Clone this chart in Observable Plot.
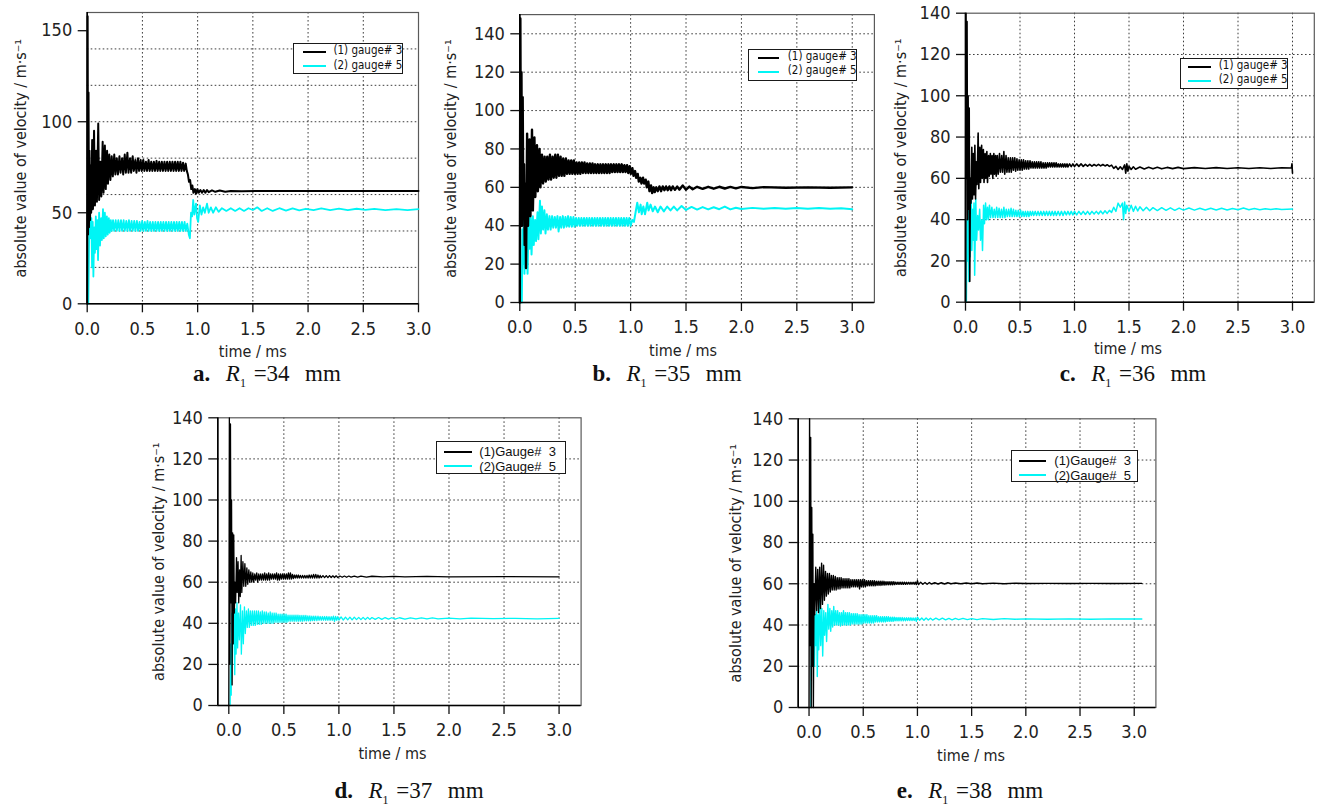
<!DOCTYPE html>
<html><head><meta charset="utf-8">
<script src="https://cdn.jsdelivr.net/npm/d3@7"></script>
<script src="https://cdn.jsdelivr.net/npm/@observablehq/plot@0.6"></script>
<style>
body{margin:0;background:#fff;}
#root{position:relative;width:1324px;height:809px;overflow:hidden;background:#fff;}
#root svg{position:absolute;left:0;top:0;}
.legend{position:absolute;box-sizing:border-box;border:1.5px solid #1a1a1a;background:#fff;}
.legend .sw{position:absolute;height:0;border-top-style:solid;}
.legend .tx{position:absolute;white-space:pre;line-height:1;transform:translateY(-50%);color:#111;}
.cap{position:absolute;white-space:pre;transform:translate(-50%,-50%);font-family:"Liberation Serif","DejaVu Serif",serif;font-size:23px;word-spacing:2px;color:#111;}
.cap sub{font-size:12px;}
</style></head>
<body><div id="root"></div>
<script>
// ---------- data: [time (ms), |velocity| (m/s)] ----------
const aGauge3 = [[0,0],[0.004,158],[0.008,38],[0.012,116],[0.016,42],[0.021,84],[0.026,46],[0.031,76],[0.036,50],[0.045,90],[0.052,52],[0.062,95],[0.07,54],[0.08,84],[0.088,56],[0.1,99],[0.108,57],[0.12,78],[0.128,59],[0.14,89],[0.148,61],[0.16,87],[0.168,63],[0.18,84],[0.188,66],[0.2,82],[0.21,68],[0.222,81],[0.232,70],[0.245,82],[0.255,71],[0.268,80],[0.278,71],[0.292,81],[0.302,72],[0.316,80],[0.326,71],[0.34,82],[0.35,72],[0.364,83],[0.374,72],[0.388,80],[0.398,72],[0.412,81],[0.422,73],[0.436,79],[0.446,72],[0.46,80],[0.47,73],[0.484,79],[0.494,73],[0.508,79],[0.518,73],[0.532,78],[0.542,73],[0.556,79],[0.566,73],[0.58,78],[0.59,73],[0.604,78],[0.614,73],[0.628,78.5],[0.638,73],[0.652,78],[0.662,73],[0.676,78],[0.686,73],[0.7,78],[0.71,73],[0.724,78],[0.734,73],[0.748,78],[0.758,73],[0.772,78],[0.782,73],[0.796,78],[0.806,73],[0.82,78],[0.83,73],[0.844,78],[0.854,73],[0.868,77.5],[0.878,73],[0.892,77],[0.902,73],[0.912,71],[0.922,67],[0.932,68],[0.942,63],[0.952,65],[0.962,61],[0.975,63],[0.985,60.5],[0.998,63],[1.01,61],[1.025,62.5],[1.04,61],[1.055,62.5],[1.07,61],[1.085,62.5],[1.1,61.3],[1.13,62.3],[1.16,61.5],[1.2,62.2],[1.25,61.6],[1.3,62],[1.4,61.8],[1.6,62],[2,62],[2.5,62],[3,62]];
const aGauge5 = [[0.01,0],[0.018,38],[0.026,50],[0.032,36],[0.038,47],[0.044,20],[0.05,45],[0.056,15],[0.064,42],[0.07,28],[0.078,48],[0.084,30],[0.092,46],[0.098,24],[0.108,50],[0.116,32],[0.126,47],[0.133,35],[0.143,52],[0.15,36],[0.16,50],[0.168,37],[0.178,48],[0.186,38],[0.196,47],[0.204,39],[0.214,46],[0.222,40],[0.234,46],[0.244,40],[0.258,46],[0.268,40],[0.282,46],[0.292,40],[0.306,46],[0.316,40],[0.33,46],[0.34,40],[0.354,45.5],[0.364,40],[0.378,46],[0.388,40],[0.402,45.5],[0.412,40],[0.426,45.5],[0.436,40],[0.45,45.5],[0.46,40],[0.474,45],[0.484,40],[0.498,45.5],[0.508,40],[0.522,45],[0.532,40],[0.546,45.5],[0.556,40],[0.57,45],[0.58,40],[0.594,45],[0.604,40],[0.618,45],[0.628,40],[0.642,45],[0.652,40],[0.666,45],[0.676,40],[0.69,45],[0.7,40],[0.714,45],[0.724,40],[0.738,45],[0.748,40],[0.762,45],[0.772,40],[0.786,45],[0.796,40],[0.81,45],[0.82,40],[0.834,45],[0.844,40],[0.858,45],[0.868,40],[0.882,45],[0.892,40],[0.906,44],[0.92,38],[0.93,36],[0.94,50],[0.95,48],[0.96,57],[0.97,49],[0.985,55],[0.995,47],[1.005,45],[1.02,54],[1.035,49],[1.05,53],[1.065,50],[1.085,55],[1.1,50],[1.12,53],[1.14,50],[1.165,53],[1.19,50.5],[1.22,52.5],[1.26,51],[1.3,52.5],[1.34,51],[1.38,52.5],[1.42,51],[1.46,52.5],[1.5,51.5],[1.54,53],[1.58,51],[1.63,52.5],[1.68,51],[1.74,52.5],[1.8,51.2],[1.86,52.4],[1.92,51.3],[1.98,52.2],[2.05,51.4],[2.12,52.4],[2.2,51.5],[2.28,52.3],[2.36,51.5],[2.44,52.2],[2.52,51.6],[2.6,52.1],[2.7,51.4],[2.8,52],[2.9,51.5],[3,52]];

const bGauge3 = [[0,0],[0.005,148],[0.01,60],[0.015,120],[0.02,40],[0.026,107],[0.032,45],[0.038,72],[0.044,30],[0.05,62],[0.056,18],[0.066,88],[0.074,40],[0.088,85],[0.096,45],[0.11,90],[0.118,48],[0.132,86],[0.14,55],[0.155,82],[0.163,58],[0.178,80],[0.186,60],[0.2,77],[0.21,62],[0.224,76],[0.234,63],[0.248,76],[0.258,64],[0.272,77],[0.282,64],[0.296,76],[0.306,65],[0.32,77],[0.33,65],[0.344,77],[0.354,66],[0.368,76],[0.378,66],[0.392,75],[0.402,66],[0.416,75],[0.426,67],[0.44,74],[0.45,67],[0.464,74],[0.474,67],[0.488,74],[0.498,67],[0.512,73],[0.522,67],[0.536,73],[0.546,67],[0.56,73],[0.57,67.5],[0.584,73],[0.594,67.5],[0.608,72.5],[0.618,67.5],[0.632,72.5],[0.642,67.5],[0.656,72.5],[0.666,67.5],[0.68,72],[0.69,67.5],[0.704,72],[0.714,67.5],[0.728,72],[0.738,67.5],[0.752,72],[0.762,67.5],[0.776,72],[0.786,67.5],[0.8,72],[0.81,67.5],[0.824,72],[0.834,68],[0.848,72],[0.858,68],[0.872,72],[0.882,68],[0.896,72],[0.906,68],[0.92,72],[0.93,68],[0.944,71.5],[0.954,68],[0.968,71.5],[0.978,67.5],[0.992,71],[1.002,67],[1.016,70],[1.026,66],[1.04,68.5],[1.05,65],[1.064,67],[1.074,63],[1.088,65],[1.098,62],[1.112,65],[1.122,62],[1.136,64],[1.146,60],[1.16,63],[1.17,58],[1.184,61],[1.194,57],[1.208,60],[1.218,57.5],[1.232,60],[1.245,58],[1.26,60.5],[1.275,58],[1.29,60.5],[1.305,58.5],[1.32,60.5],[1.335,58.5],[1.35,60.5],[1.365,58.5],[1.38,60.5],[1.4,58.7],[1.42,60.4],[1.44,58.8],[1.47,61],[1.5,58.8],[1.53,60.4],[1.56,59],[1.6,60.3],[1.65,59.2],[1.7,60.3],[1.75,59.3],[1.8,60.3],[1.85,59.4],[1.9,60.2],[1.95,59.5],[2,60.2],[2.1,59.6],[2.2,60.1],[2.4,59.8],[2.6,60],[2.8,59.8],[3,60]];
const bGauge5 = [[0.018,0],[0.024,38],[0.03,20],[0.036,45],[0.042,15],[0.05,52],[0.056,30],[0.064,50],[0.07,15],[0.08,45],[0.088,28],[0.098,44],[0.106,25],[0.118,45],[0.126,30],[0.138,43],[0.146,32],[0.16,47],[0.168,33],[0.182,53],[0.19,36],[0.2,50],[0.21,38],[0.222,48],[0.232,36],[0.244,46],[0.254,38],[0.268,45],[0.278,38],[0.292,45],[0.302,39],[0.316,44.5],[0.326,39],[0.34,45],[0.35,37],[0.364,44.5],[0.374,39],[0.388,45],[0.398,39],[0.412,44.5],[0.422,39.5],[0.436,45],[0.446,39.5],[0.46,44.5],[0.47,39.5],[0.484,44.5],[0.494,39.5],[0.508,44],[0.518,40],[0.532,44],[0.542,40],[0.556,44],[0.566,40],[0.58,44],[0.59,40],[0.604,44],[0.614,40],[0.628,44],[0.638,40],[0.652,44],[0.662,40],[0.676,44],[0.686,40],[0.7,44],[0.71,40],[0.724,44],[0.734,40],[0.748,44],[0.758,40],[0.772,44],[0.782,40],[0.796,44],[0.806,40],[0.82,44],[0.83,40],[0.844,44],[0.854,40],[0.868,44],[0.878,40],[0.892,44],[0.902,40],[0.916,44],[0.926,40],[0.94,44],[0.95,40],[0.964,44],[0.974,40],[0.988,44],[1.0,40],[1.015,43],[1.03,42],[1.045,47],[1.06,52],[1.075,47],[1.09,51],[1.1,46],[1.115,50],[1.13,46],[1.15,52],[1.162,48],[1.18,51],[1.2,47.5],[1.22,50],[1.245,47],[1.27,50],[1.3,47.5],[1.33,50],[1.36,48],[1.39,50],[1.42,48],[1.46,50.3],[1.5,48.2],[1.55,49.8],[1.6,48.4],[1.65,49.7],[1.7,48.5],[1.75,49.6],[1.8,48.6],[1.85,50],[1.9,48.5],[1.95,49.4],[2,48.7],[2.1,49.3],[2.2,48.8],[2.3,49.2],[2.4,48.8],[2.5,49.2],[2.6,48.8],[2.7,49.2],[2.8,48.8],[2.9,49.1],[3,48.6]];

const cGauge3 = [[0,0],[0.004,140],[0.009,60],[0.014,136],[0.019,40],[0.024,100],[0.029,45],[0.034,94],[0.039,10],[0.045,60],[0.05,48],[0.058,75],[0.064,50],[0.072,72],[0.078,52],[0.086,76],[0.092,50],[0.1,68],[0.106,57],[0.116,82],[0.122,55],[0.132,75],[0.138,58],[0.148,76],[0.154,60],[0.164,74],[0.17,58],[0.18,72],[0.186,60],[0.196,73],[0.202,58],[0.212,71],[0.218,61],[0.228,72],[0.234,62],[0.244,71],[0.25,60],[0.26,72],[0.266,62],[0.276,71],[0.282,61],[0.292,71],[0.3,62],[0.312,72],[0.32,63],[0.332,71],[0.34,63],[0.352,73],[0.36,62],[0.372,71],[0.38,63],[0.392,70],[0.4,63],[0.412,70],[0.42,63],[0.432,70],[0.44,64],[0.452,70],[0.46,63.5],[0.472,69.5],[0.48,64],[0.492,69],[0.5,64],[0.512,69],[0.52,64],[0.532,69],[0.54,64.5],[0.552,68.5],[0.56,64.5],[0.572,68.5],[0.58,64.5],[0.592,68.5],[0.6,65],[0.612,68],[0.62,65],[0.632,68],[0.64,65],[0.652,68],[0.66,65],[0.672,68],[0.68,65],[0.692,68],[0.7,65],[0.712,67.5],[0.72,65],[0.732,67.5],[0.74,65],[0.752,67.5],[0.76,65.5],[0.772,67.5],[0.78,65.5],[0.792,67.5],[0.8,65.5],[0.812,67.5],[0.82,65.5],[0.832,67.5],[0.84,65.5],[0.852,67],[0.86,65.5],[0.872,67],[0.88,65.5],[0.892,67],[0.9,65.5],[0.912,67],[0.92,65.5],[0.932,67],[0.94,65.5],[0.955,67],[0.97,65.7],[0.985,67],[1.0,65.7],[1.02,67],[1.04,65.8],[1.06,67],[1.08,65.8],[1.1,66.8],[1.12,65.9],[1.14,66.8],[1.16,65.9],[1.18,66.7],[1.2,66],[1.22,66.8],[1.24,66],[1.26,66.7],[1.28,66],[1.3,66.6],[1.32,65.8],[1.34,66.4],[1.36,64.8],[1.38,65.8],[1.4,64.3],[1.42,65.6],[1.44,64.3],[1.46,66.5],[1.47,62.5],[1.48,67],[1.49,63.5],[1.5,65.8],[1.52,64.3],[1.54,65.6],[1.56,64.4],[1.6,65.5],[1.64,64.5],[1.68,65.4],[1.72,64.6],[1.76,65.4],[1.8,64.6],[1.85,65.3],[1.9,64.7],[1.95,65.3],[2,64.7],[2.1,65.2],[2.2,64.8],[2.3,65.2],[2.4,64.8],[2.5,65.1],[2.6,64.8],[2.7,65.1],[2.8,64.8],[2.9,65.1],[2.99,65],[2.995,67],[3,62.5]];
const cGauge5 = [[0.008,0],[0.013,40],[0.018,20],[0.026,50],[0.031,10],[0.037,40],[0.043,22],[0.052,52],[0.058,25],[0.066,45],[0.072,30],[0.078,48],[0.084,13],[0.094,50],[0.102,30],[0.112,42],[0.12,35],[0.13,45],[0.138,30],[0.148,40],[0.156,25],[0.166,47],[0.174,38],[0.184,48],[0.192,40],[0.202,46],[0.21,40],[0.22,47],[0.23,41],[0.242,46],[0.252,41],[0.264,45],[0.274,41],[0.286,46],[0.296,41],[0.308,45.5],[0.318,41],[0.33,45],[0.34,41],[0.352,46],[0.362,41],[0.374,45],[0.384,41.5],[0.396,45],[0.406,41.5],[0.418,45.5],[0.428,41.5],[0.44,45],[0.45,41.5],[0.462,44.5],[0.472,41.5],[0.484,44.5],[0.494,41.5],[0.506,44.5],[0.516,41.5],[0.528,44],[0.538,41.5],[0.55,44],[0.56,41.5],[0.572,44],[0.582,41.5],[0.594,44],[0.604,42],[0.616,44],[0.626,42],[0.64,44],[0.652,42],[0.666,44],[0.678,42],[0.692,44],[0.704,42],[0.718,44],[0.73,42],[0.744,44],[0.756,42],[0.77,44],[0.782,42],[0.796,44],[0.808,42],[0.822,44],[0.834,42],[0.85,44],[0.865,42],[0.88,44],[0.895,42],[0.91,44],[0.925,42.3],[0.94,44],[0.955,42.3],[0.97,44],[0.985,42.3],[1.0,44],[1.02,42.3],[1.04,44],[1.06,42.5],[1.08,44],[1.1,42.5],[1.12,44],[1.14,42.5],[1.16,44],[1.18,42.7],[1.2,44],[1.22,42.7],[1.24,44.2],[1.26,42.8],[1.28,44.3],[1.3,43],[1.32,44.5],[1.34,43.5],[1.36,46],[1.38,44],[1.4,48],[1.42,46],[1.44,48],[1.45,40],[1.46,48.5],[1.47,43],[1.48,47],[1.5,44],[1.52,47],[1.54,44],[1.56,46.5],[1.58,44.2],[1.6,46.2],[1.63,44.3],[1.66,46],[1.69,44.3],[1.72,45.8],[1.76,44.4],[1.8,45.8],[1.84,44.5],[1.88,45.7],[1.92,44.5],[1.96,45.6],[2,44.6],[2.05,45.6],[2.1,44.6],[2.15,45.5],[2.2,44.7],[2.25,45.5],[2.3,44.7],[2.35,45.5],[2.4,44.7],[2.45,45.4],[2.5,44.8],[2.55,45.6],[2.6,44.8],[2.65,45.4],[2.7,44.8],[2.75,45.3],[2.8,44.9],[2.85,45.3],[2.9,44.9],[3,45.1]];

const dGauge3 = [[0,0],[0.005,140],[0.01,20],[0.015,137],[0.02,50],[0.025,100],[0.03,10],[0.035,84],[0.04,30],[0.045,83],[0.05,45],[0.056,60],[0.062,50],[0.07,72],[0.076,55],[0.084,70],[0.09,50],[0.098,66],[0.104,53],[0.112,73],[0.118,55],[0.128,70],[0.136,58],[0.146,69],[0.154,58],[0.164,67],[0.172,59],[0.182,66],[0.19,60],[0.2,65],[0.208,60],[0.218,64.5],[0.226,60],[0.236,64],[0.244,61],[0.254,64.5],[0.262,60],[0.272,64],[0.28,61],[0.29,64],[0.298,61],[0.308,64],[0.316,61],[0.326,64.5],[0.334,61],[0.344,64],[0.352,61],[0.362,64.5],[0.37,61],[0.38,64],[0.388,61.5],[0.398,64],[0.406,61.5],[0.416,64],[0.424,61.5],[0.434,64.5],[0.442,61],[0.452,64],[0.46,61],[0.47,64],[0.478,61.5],[0.488,64],[0.496,61.5],[0.506,64],[0.514,61.5],[0.524,64],[0.532,61.5],[0.542,64.5],[0.55,61.5],[0.56,64.5],[0.568,61.5],[0.578,63.8],[0.586,61.8],[0.596,63.5],[0.604,62],[0.614,63.5],[0.622,62],[0.632,63.5],[0.64,62],[0.65,63.3],[0.66,62],[0.67,63.3],[0.68,62],[0.69,63.3],[0.7,62],[0.71,63.3],[0.72,62],[0.73,63.5],[0.74,62],[0.75,63.5],[0.76,62],[0.77,63.8],[0.78,62],[0.79,63.8],[0.8,62],[0.81,63.5],[0.82,62],[0.83,63.3],[0.84,62.2],[0.855,63.2],[0.87,62.2],[0.885,63.2],[0.9,62.2],[0.915,63.2],[0.93,62.3],[0.945,63.1],[0.96,62.3],[0.975,63.1],[0.99,62.3],[1.01,63],[1.03,62.4],[1.05,63],[1.07,62.4],[1.09,63],[1.11,62.5],[1.14,63],[1.17,62.5],[1.2,63],[1.25,62.5],[1.3,62.9],[1.4,62.6],[1.5,62.8],[1.6,62.6],[1.8,62.8],[2,62.6],[2.5,62.7],[3,62.6]];
const dGauge5 = [[0.012,0],[0.018,30],[0.022,5],[0.028,45],[0.033,20],[0.038,55],[0.043,30],[0.048,52],[0.054,15],[0.06,47],[0.066,25],[0.074,50],[0.08,28],[0.088,45],[0.096,32],[0.106,49],[0.114,25],[0.124,46],[0.132,30],[0.142,48],[0.15,35],[0.16,46],[0.168,38],[0.178,47],[0.186,38],[0.196,46],[0.204,39],[0.214,46],[0.222,39],[0.232,46],[0.24,39],[0.25,46],[0.258,39.5],[0.268,46],[0.276,39.5],[0.286,45.5],[0.294,39.5],[0.304,46],[0.312,40],[0.322,45.5],[0.33,40],[0.34,45.5],[0.348,40],[0.358,45],[0.366,40],[0.376,45.5],[0.384,40],[0.394,45],[0.402,40],[0.412,45],[0.42,40.5],[0.43,45],[0.438,40.5],[0.448,44.5],[0.456,40.5],[0.466,44.5],[0.474,40.5],[0.484,44.5],[0.492,40.5],[0.502,44.5],[0.51,40.5],[0.52,44.5],[0.528,40.5],[0.538,44],[0.546,41],[0.556,44],[0.564,41],[0.574,44],[0.582,41],[0.592,44],[0.6,41],[0.61,44],[0.618,41],[0.628,44],[0.636,41],[0.646,43.8],[0.654,41],[0.664,43.8],[0.672,41],[0.682,43.8],[0.69,41.2],[0.7,43.8],[0.708,41.2],[0.718,43.6],[0.726,41.2],[0.736,43.6],[0.744,41.2],[0.754,43.5],[0.762,41.3],[0.772,43.5],[0.78,41.3],[0.79,43.5],[0.8,41.3],[0.81,43.5],[0.82,41.5],[0.83,43.3],[0.84,41.5],[0.85,43.3],[0.86,41.5],[0.87,43.3],[0.88,41.5],[0.89,43.3],[0.9,41.5],[0.91,43.2],[0.92,41.5],[0.93,43.2],[0.94,41.5],[0.95,43.5],[0.96,41],[0.97,43.4],[0.98,41.5],[0.99,43.2],[1.0,41.6],[1.02,43.1],[1.04,41.6],[1.06,43],[1.08,41.7],[1.1,43],[1.12,41.7],[1.14,43],[1.16,41.8],[1.18,42.9],[1.2,41.8],[1.22,42.9],[1.24,41.8],[1.26,42.9],[1.28,41.9],[1.3,42.8],[1.33,41.9],[1.36,42.8],[1.39,41.9],[1.42,42.8],[1.45,42],[1.48,42.7],[1.51,42],[1.55,42.7],[1.6,42],[1.65,42.6],[1.7,42.1],[1.75,42.6],[1.8,42.1],[1.85,42.6],[1.9,42.2],[2,42.5],[2.1,42.2],[2.2,42.5],[2.4,42.3],[2.6,42.4],[2.8,42.2],[3,42.4]];

const eGauge3 = [[0,0],[0.005,140],[0.01,30],[0.015,131],[0.02,0],[0.025,97],[0.03,20],[0.035,84],[0.04,0],[0.046,60],[0.052,45],[0.062,68],[0.07,47],[0.08,67],[0.088,46],[0.098,68],[0.106,48],[0.116,70],[0.124,50],[0.134,69],[0.142,52],[0.152,66],[0.16,54],[0.17,65],[0.178,55],[0.188,65],[0.196,56],[0.206,64],[0.214,57],[0.224,64],[0.232,57],[0.242,63.5],[0.25,57],[0.26,63],[0.268,57.5],[0.278,63],[0.286,57.5],[0.296,63],[0.304,58],[0.314,62.5],[0.322,58],[0.332,62.5],[0.34,58],[0.35,62.5],[0.358,58],[0.368,62.5],[0.376,58],[0.386,62],[0.394,58.5],[0.404,62],[0.412,58.5],[0.422,62],[0.43,58.5],[0.44,62],[0.448,58.5],[0.458,62],[0.466,57.5],[0.476,62],[0.484,58.5],[0.494,62],[0.502,58.5],[0.512,62],[0.52,58.5],[0.53,61.5],[0.538,59],[0.548,61.5],[0.556,59],[0.566,61.5],[0.574,59],[0.584,61.5],[0.592,59],[0.602,61.5],[0.61,59],[0.62,61.3],[0.628,59.2],[0.638,61.3],[0.646,59.2],[0.656,61.3],[0.664,59.2],[0.674,61.2],[0.682,59.4],[0.692,61.2],[0.7,59.4],[0.71,61],[0.718,59.5],[0.728,61],[0.736,59.5],[0.746,61],[0.754,59.5],[0.764,61],[0.772,59.5],[0.782,61],[0.79,59.6],[0.8,60.8],[0.81,59.7],[0.82,60.8],[0.83,59.7],[0.84,60.8],[0.85,59.7],[0.86,60.8],[0.87,59.7],[0.88,60.8],[0.89,59.7],[0.9,60.7],[0.91,59.8],[0.92,60.7],[0.93,59.8],[0.94,60.7],[0.95,59.8],[0.96,60.7],[0.97,59.8],[0.98,60.8],[0.99,59.6],[1.0,61.5],[1.01,59.6],[1.03,60.7],[1.05,59.8],[1.07,60.6],[1.09,59.8],[1.11,60.6],[1.13,59.9],[1.16,60.5],[1.19,59.9],[1.22,60.5],[1.25,59.9],[1.28,60.5],[1.31,60],[1.35,60.4],[1.4,60],[1.45,60.4],[1.5,60],[1.55,60.4],[1.6,60],[1.7,60.3],[1.8,60],[1.9,60.3],[2,60.1],[2.2,60.2],[2.4,60.1],[2.6,60.2],[2.8,60.1],[3.07,60.2]];
const eGauge5 = [[0.018,0],[0.022,40],[0.027,25],[0.033,55],[0.038,30],[0.044,50],[0.05,20],[0.056,45],[0.062,30],[0.07,48],[0.076,15],[0.084,45],[0.09,28],[0.1,52],[0.108,30],[0.118,48],[0.126,25],[0.136,47],[0.144,35],[0.154,46],[0.162,32],[0.174,50],[0.182,38],[0.192,48],[0.2,37],[0.21,47],[0.218,39],[0.228,49],[0.236,40],[0.246,47],[0.254,40],[0.264,47],[0.272,40],[0.282,46],[0.29,39.5],[0.3,46],[0.308,40],[0.318,47],[0.326,40],[0.336,46],[0.344,40],[0.354,46],[0.362,40],[0.372,46],[0.38,40],[0.39,45.5],[0.398,40.5],[0.408,45.5],[0.416,40.5],[0.426,45.5],[0.434,40.5],[0.444,45.5],[0.452,40.5],[0.462,45],[0.47,40.5],[0.48,45],[0.488,40.5],[0.498,45],[0.506,41],[0.516,45],[0.524,41],[0.534,45],[0.542,41],[0.552,44.5],[0.56,41],[0.57,44.5],[0.578,41],[0.588,44.5],[0.596,41],[0.606,44.5],[0.614,41.5],[0.624,44.5],[0.632,41.5],[0.642,44],[0.65,41.5],[0.66,44],[0.668,41.5],[0.678,44],[0.686,41.5],[0.696,44],[0.704,41.5],[0.714,44],[0.722,41.8],[0.732,44],[0.74,41.8],[0.75,43.8],[0.758,41.8],[0.768,43.8],[0.776,41.8],[0.786,43.8],[0.794,42],[0.804,43.6],[0.812,42],[0.822,43.6],[0.83,42],[0.84,43.6],[0.85,42],[0.86,43.6],[0.87,42],[0.88,43.5],[0.89,42],[0.9,43.5],[0.91,42.2],[0.92,43.5],[0.93,42.2],[0.94,43.5],[0.95,42.2],[0.96,43.4],[0.97,42.2],[0.98,43.4],[0.99,41.8],[1.0,43.8],[1.02,42.3],[1.04,43.4],[1.06,42.3],[1.08,43.4],[1.1,42.4],[1.12,43.3],[1.14,42.4],[1.17,43.3],[1.2,42.5],[1.23,43.3],[1.26,42.5],[1.29,43.2],[1.32,42.5],[1.35,43.2],[1.38,42.6],[1.42,43.2],[1.46,42.6],[1.5,43.1],[1.55,42.6],[1.6,43.1],[1.7,42.7],[1.8,43.1],[1.9,42.8],[2,43],[2.2,42.8],[2.4,43],[2.6,42.8],[2.8,43],[3.07,42.9]];

// ---------- ticks, grid values and labels ----------
const xTicks = [0, 0.5, 1.0, 1.5, 2.0, 2.5, 3.0];
const yTicksA = [0, 50, 100, 150];
const yTicks140 = [0, 20, 40, 60, 80, 100, 120, 140];
const yGridA = [20, 40, 60, 80, 100, 120, 140];
const yGridB = [20, 40, 60, 80, 100, 120, 140];
const yGrid140 = [20, 40, 60, 80, 100, 120];
const xGridA = [0.5, 1.0, 1.5, 2.0, 2.5];
const xGridB = [0.5, 1.0, 1.5, 2.0, 2.5, 3.0];
const yLabel = "absolute value of velocity / m·s\u207B\u00B9";
const xLabel = "time / ms";
const legendLower = ["(1) gauge# 3", "(2) gauge# 5"];
const legendUpper = ["(1)Gauge#  3", "(2)Gauge#  5"];
const captionLetters = ["a.", "b.", "c.", "d.", "e."];
const captionRadius = ["34", "35", "36", "37", "38"];

// ---------- layout / style ----------
const W = 1324, H = 809;
const NARROW = '"DejaVu Sans Condensed","Liberation Sans Narrow","Arial Narrow",sans-serif';
const panels = [
  {g3: aGauge3, g5: aGauge5, xd: [0, 3], yd: [0, 160], yt: yTicksA, yg: yGridA, xg: xGridA,
   L: 86.7, R: 418, T: 12, B: 303.3, ylx: -66.7, xlx: 0, xly: 48.5, w3: 2, w5: 1.8,
   leg: {left: 293, top: 42.7, w: 110, h: 31.3, s0: 8.7, s1: 32, tx: 39.5, r: [9, 23.5], labels: legendLower, font: NARROW, fs: 11.5},
   cap: {x: 267, y: 376}},
  {g3: bGauge3, g5: bGauge5, xd: [0, 3.2], yd: [0, 150], yt: yTicks140, yg: yGridB, xg: xGridB,
   L: 519.3, R: 873.9, T: 14.1, B: 302, ylx: -69.3, xlx: -14, xly: 48, w3: 2.4, w5: 2,
   leg: {left: 748.3, top: 49.3, w: 108.4, h: 31.7, s0: 8.4, s1: 30, tx: 38.5, r: [8.6, 22.4], labels: legendLower, font: NARROW, fs: 11.5},
   cap: {x: 667, y: 376}},
  {g3: cGauge3, g5: cGauge5, xd: [0, 3.2], yd: [0, 140], yt: yTicks140, yg: yGrid140, xg: xGridB,
   L: 965, R: 1313.8, T: 12.7, B: 301.7, ylx: -64.3, xlx: -12, xly: 46.5, w3: 1.6, w5: 1.5,
   leg: {left: 1180, top: 58.3, w: 108.3, h: 31, s0: 7.3, s1: 30, tx: 37.8, r: [8.4, 22.7], labels: legendLower, font: NARROW, fs: 11.5},
   cap: {x: 1133, y: 376}},
  {g3: dGauge3, g5: dGauge5, xd: [-0.1, 3.2], yd: [0, 140], yt: yTicks140, yg: yGrid140, xg: xGridB,
   L: 217.3, R: 580.6, T: 417.3, B: 705, ylx: -59, xlx: -7, xly: 48, w3: 1.3, w5: 1.3,
   leg: {left: 436, top: 441, w: 130, h: 33, s0: 7.3, s1: 34.7, tx: 42.3, r: [10.7, 25], labels: legendUpper, font: '"Liberation Sans",Arial,sans-serif', fs: 13},
   cap: {x: 409, y: 793}},
  {g3: eGauge3, g5: eGauge5, xd: [-0.1, 3.2], yd: [0, 140], yt: yTicks140, yg: yGrid140, xg: xGridB,
   L: 797.7, R: 1155.4, T: 418.3, B: 707, ylx: -62.7, xlx: -6, xly: 48, w3: 1.4, w5: 1.4,
   leg: {left: 1011, top: 450, w: 127.3, h: 32.3, s0: 7.3, s1: 34, tx: 42.3, r: [10.7, 25], labels: legendUpper, font: '"Liberation Sans",Arial,sans-serif', fs: 13},
   cap: {x: 970, y: 793}}
];

const root = document.getElementById("root");
const grid = {stroke: "#333", strokeOpacity: 0.95, strokeWidth: 1, strokeDasharray: "1.6,2.4"};

panels.forEach((p, i) => {
  const chart = Plot.plot({
    width: W, height: H,
    marginLeft: p.L, marginRight: W - p.R, marginTop: p.T, marginBottom: H - p.B,
    style: {background: "transparent", fontFamily: NARROW, fontSize: "18px", color: "#222", overflow: "visible"},
    x: {domain: p.xd},
    y: {domain: p.yd},
    marks: [
      Plot.gridY(p.yg, grid),
      Plot.gridX(p.xg, grid),
      Plot.frame({stroke: "#5a5a5a", strokeWidth: 1.2}),
      Plot.axisY(p.yt, {tickSize: 9, tickPadding: 6, fontSize: 18, label: null, stroke: "#111", strokeWidth: 1.3}),
      Plot.axisX(xTicks, {tickSize: 9, tickPadding: 9, fontSize: 18, label: null, stroke: "#111", strokeWidth: 1.3,
        tickFormat: d => d.toFixed(1)}),
      Plot.line(p.g5, {x: d => d[0], y: d => d[1], stroke: "#00f5f5", strokeWidth: p.w5}),
      Plot.line(p.g3, {x: d => d[0], y: d => d[1], stroke: "#000", strokeWidth: p.w3}),
      Plot.ruleY([p.yd[0]], {stroke: "#000", strokeWidth: 1.5}),
      Plot.ruleX([p.xd[0]], {stroke: "#000", strokeWidth: 1.6}),
      Plot.text([xLabel], {text: d => d, frameAnchor: "bottom", dy: p.xly, dx: p.xlx, fontSize: 16, fill: "#222",
        textAnchor: "middle", lineAnchor: "middle"}),
      Plot.text([yLabel], {text: d => d, frameAnchor: "left", dx: p.ylx, rotate: -90, fontSize: 16, fill: "#222",
        textAnchor: "middle", lineAnchor: "middle"})
    ]
  });
  root.appendChild(chart);

  // legend box
  const lg = p.leg;
  const box = document.createElement("div");
  box.className = "legend";
  Object.assign(box.style, {left: lg.left + "px", top: lg.top + "px", width: lg.w + "px", height: lg.h + "px"});
  lg.labels.forEach((lab, k) => {
    const sw = document.createElement("div");
    sw.className = "sw";
    Object.assign(sw.style, {left: lg.s0 + "px", width: (lg.s1 - lg.s0) + "px", top: (lg.r[k] - 2) + "px",
      borderTopWidth: "2px", borderTopColor: k === 0 ? "#000" : "#00f5f5"});
    box.appendChild(sw);
    const tx = document.createElement("div");
    tx.className = "tx";
    tx.textContent = lab;
    Object.assign(tx.style, {left: lg.tx + "px", top: (lg.r[k] - 1.5) + "px", fontFamily: lg.font, fontSize: lg.fs + "px"});
    box.appendChild(tx);
  });
  root.appendChild(box);

  // caption
  const cap = document.createElement("div");
  cap.className = "cap";
  cap.style.left = p.cap.x + "px";
  cap.style.top = p.cap.y + "px";
  cap.innerHTML = "<b>" + captionLetters[i] + "</b>  <i>R</i><sub>1</sub> =" + captionRadius[i] + "  mm";
  root.appendChild(cap);
});
</script>
</body></html>
